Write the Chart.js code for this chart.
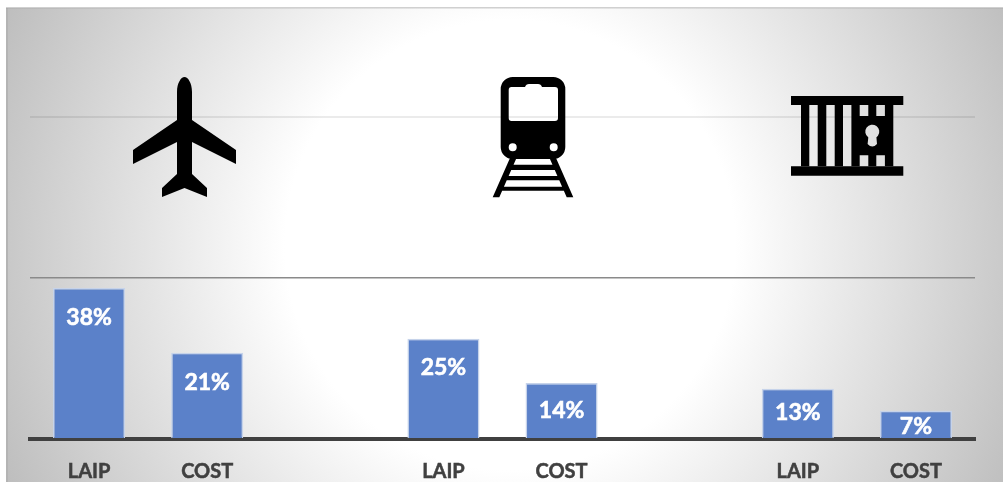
<!DOCTYPE html>
<html>
<head>
<meta charset="utf-8">
<title>LAIP and cost</title>
<script src="https://cdn.jsdelivr.net/npm/chart.js@4"></script>
<style>
    html, body { margin: 0; padding: 0; background: #fff; overflow: hidden; }
    canvas { display: block; }
</style>
</head>
<body>
<canvas id="chart" width="1003" height="482"></canvas>
<script>
// Data (blank categories leave the gap between the three groups)
const categories = ['LAIP', 'COST', '', 'LAIP', 'COST', '', 'LAIP', 'COST'];
const shareValues = [37.5, 21.4, null, 24.9, 13.9, null, 12.5, 7];
const gridTicks = [0, 40, 80];

// Background panel with the white glow in the middle
const panelPlugin = {
    id: 'panel',
    beforeDraw(chart) {
        const ctx = chart.ctx;
        const glow = ctx.createRadialGradient(510, 245, 225, 510, 245, 560);
        glow.addColorStop(0, '#ffffff');
        glow.addColorStop(1, '#bdbdbd');
        ctx.save();
        ctx.fillStyle = glow;
        ctx.fillRect(6, 8, 997, 474);
        ctx.fillStyle = '#b4b4b4';
        ctx.fillRect(6, 8, 2, 474);
        ctx.fillStyle = 'rgba(150,150,150,0.45)';
        ctx.fillRect(6, 7, 997, 1.5);
        ctx.restore();
    }
};

function planeIcon() {
    const p = new Path2D();
    p.moveTo(177, 92);
    p.bezierCurveTo(177, 83, 181, 77, 184.5, 77);
    p.bezierCurveTo(188, 77, 192, 83, 192, 92);
    p.lineTo(192, 120);
    p.lineTo(236, 150);
    p.lineTo(236, 164);
    p.lineTo(192, 142);
    p.lineTo(192, 174);
    p.lineTo(207, 188);
    p.lineTo(207, 197);
    p.lineTo(184.5, 188);
    p.lineTo(162, 197);
    p.lineTo(162, 188);
    p.lineTo(177, 174);
    p.lineTo(177, 142);
    p.lineTo(133, 164);
    p.lineTo(133, 150);
    p.lineTo(177, 120);
    p.closePath();
    return p;
}

function trainIcon() {
    const p = new Path2D();
    // body
    p.roundRect(500.7, 77, 64.6, 82, 12);
    // window with the small bump on top
    p.moveTo(511.5, 87);
    p.lineTo(525, 87);
    p.quadraticCurveTo(526, 84, 529, 84);
    p.lineTo(538, 84);
    p.quadraticCurveTo(541, 84, 542, 87);
    p.lineTo(555, 87);
    p.quadraticCurveTo(558, 87, 558, 90);
    p.lineTo(558, 118);
    p.quadraticCurveTo(558, 121, 555, 121);
    p.lineTo(511.5, 121);
    p.quadraticCurveTo(508.7, 121, 508.7, 118);
    p.lineTo(508.7, 90);
    p.quadraticCurveTo(508.7, 87, 511.5, 87);
    p.closePath();
    // lights
    p.moveTo(516.7, 147.3);
    p.arc(512.7, 147.3, 4, 0, Math.PI * 2);
    p.moveTo(557.7, 147.3);
    p.arc(553.7, 147.3, 4, 0, Math.PI * 2);
    return p;
}

function trackIcon() {
    const p = new Path2D();
    // both rails run clockwise like the rects, otherwise the overlaps cancel
    p.moveTo(510, 158);
    p.lineTo(516.5, 158);
    p.lineTo(499.3, 197.3);
    p.lineTo(492.7, 197.3);
    p.closePath();
    p.moveTo(556, 158);
    p.lineTo(573.3, 197.3);
    p.lineTo(566.7, 197.3);
    p.lineTo(549.5, 158);
    p.closePath();
    p.rect(508, 164.7, 50, 5.3);
    p.rect(503, 176, 60, 4.2);
    p.rect(498, 186.7, 70, 4);
    return p;
}

function jailIcon() {
    const p = new Path2D();
    p.rect(791, 96, 112.3, 9);
    p.rect(791, 166.3, 112.3, 9.4);
    const bars = new Path2D();
    bars.rect(801, 105, 92.3, 61.3);
    // slots
    [809.3, 826.3, 843].forEach(x => bars.rect(x, 105, 8.4, 61.3));
    [859.7, 876.3].forEach(x => {
        bars.rect(x, 105, 8.6, 11);
        bars.rect(x, 155.3, 8.6, 11);
    });
    // keyhole, one outline so the evenodd fill leaves it open
    bars.moveTo(868.3, 137.5);
    bars.arc(872.3, 131.7, 7, Math.PI * 0.7, Math.PI * 0.3);
    bars.lineTo(877, 144);
    bars.quadraticCurveTo(872.3, 149, 867.6, 144);
    bars.closePath();
    return { p, bars };
}

const iconPlugin = {
    id: 'icons',
    afterDatasetsDraw(chart) {
        const ctx = chart.ctx;
        ctx.save();
        ctx.fillStyle = '#000';
        ctx.fill(planeIcon());
        ctx.fill(trainIcon(), 'evenodd');
        ctx.fill(trackIcon());
        const jail = jailIcon();
        ctx.fill(jail.p);
        ctx.fill(jail.bars, 'evenodd');
        ctx.restore();
    }
};

// Percent labels inside the bars, the short bars push them closer to the top
const labelDrop = [30, 30, 0, 29, 28, 0, 24, 16];
const labelPlugin = {
    id: 'barLabels',
    afterDatasetsDraw(chart) {
        const ctx = chart.ctx;
        ctx.save();
        ctx.fillStyle = '#ffffff';
        ctx.strokeStyle = '#ffffff';
        ctx.lineWidth = 0.6;
        ctx.font = 'bold 23px Lato';
        ctx.textAlign = 'center';
        ctx.textBaseline = 'middle';
        chart.getDatasetMeta(0).data.forEach((bar, i) => {
            if (shareValues[i] === null) return;
            const text = Math.round(shareValues[i]) + '%';
            ctx.fillText(text, bar.x, bar.y + labelDrop[i]);
            ctx.strokeText(text, bar.x, bar.y + labelDrop[i]);
        });
        ctx.restore();
    }
};

new Chart(document.getElementById('chart').getContext('2d'), {
    type: 'bar',
    data: {
        labels: categories,
        datasets: [{
            data: shareValues,
            backgroundColor: '#5b81c9',
            borderColor: '#c6d3ea',
            borderWidth: { top: 1.5, left: 1.5, right: 1.5, bottom: 0 },
            barPercentage: 0.61,
            categoryPercentage: 1
        }]
    },
    options: {
        responsive: false,
        animation: false,
        layout: { padding: { left: 30, right: 28, top: 117, bottom: 0 } },
        plugins: { legend: { display: false }, tooltip: { enabled: false } },
        scales: {
            x: {
                afterFit(axis) { axis.height = 43; },
                grid: { display: false },
                border: { color: '#404040', width: 4 },
                ticks: {
                    color: '#404040',
                    font: { family: 'Lato', weight: 'bold', size: 20 },
                    textStrokeColor: '#404040',
                    textStrokeWidth: 0.5,
                    padding: 13,
                    maxRotation: 0,
                    autoSkip: false
                }
            },
            y: {
                display: true,
                min: 0,
                max: 80,
                afterBuildTicks(axis) { axis.ticks = gridTicks.map(value => ({ value })); },
                afterFit(axis) { axis.width = 0; },
                border: { display: false },
                ticks: { display: false },
                grid: {
                    drawTicks: false,
                    color: ctx => ctx.tick.value === 80 ? 'rgba(0,0,0,0.08)' : ctx.tick.value === 40 ? '#8a8a8a' : 'rgba(0,0,0,0)',
                    lineWidth: ctx => ctx.tick.value === 40 ? 1.5 : 2
                }
            }
        }
    },
    plugins: [panelPlugin, iconPlugin, labelPlugin]
});
</script>
</body>
</html>
